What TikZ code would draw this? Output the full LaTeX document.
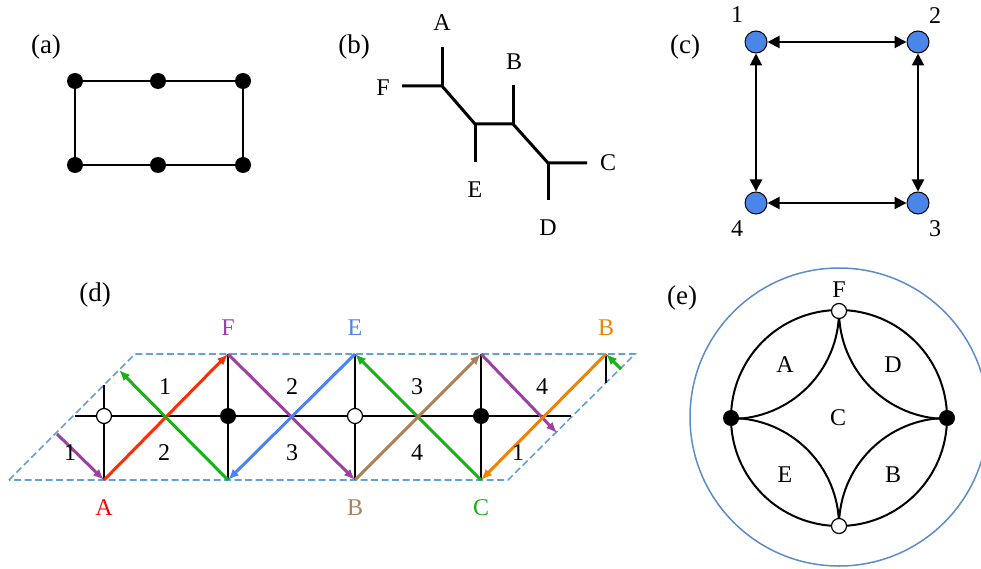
\documentclass[tikz,border=0pt]{standalone}
\usepackage{fontspec}
\setmainfont{Liberation Serif}
\usetikzlibrary{arrows.meta}
\definecolor{dpurple}{RGB}{155,65,160}
\definecolor{dred}{RGB}{255,45,0}
\definecolor{dgreen}{RGB}{20,180,20}
\definecolor{dblue}{RGB}{75,130,245}
\definecolor{dbrown}{RGB}{170,130,90}
\definecolor{dorange}{RGB}{240,130,0}
\definecolor{dashblue}{RGB}{100,160,220}
\definecolor{ringblue}{RGB}{90,140,205}
\definecolor{nodeblue}{RGB}{74,134,232}
\tikzset{
  lbl/.style={font=\fontsize{24}{28}\selectfont, inner sep=0pt},
  plbl/.style={font=\fontsize{27}{32}\selectfont, inner sep=0pt},
  bdot/.style={circle, fill=black, minimum size=16pt, inner sep=0pt},
  wdot/.style={circle, draw=black, fill=white, line width=1.2pt, minimum size=15pt, inner sep=0pt},
  kdot/.style={circle, fill=black, minimum size=16pt, inner sep=0pt},
  cnode/.style={circle, draw=black, fill=nodeblue, line width=1pt, minimum size=22pt, inner sep=0pt},
  blk/.style={line width=2pt, black},
  thk/.style={line width=3pt, black},
  carrow/.style={line width=2pt, {Triangle[length=12pt,width=12pt]}-{Triangle[length=12pt,width=12pt]}},
  col/.style={line width=3pt, -{Latex[length=11pt,width=9pt]}},
}
\begin{document}
\begin{tikzpicture}[x=1pt,y=-1pt]
\useasboundingbox (0,0) rectangle (981,569);

% ---------- (a)
\node[plbl] (la) at (46,47) {(a)};
\coordinate (a1) at (75,81);
\coordinate (a2) at (158,81);
\coordinate (a3) at (243,81);
\coordinate (a4) at (75,165);
\coordinate (a5) at (158,165);
\coordinate (a6) at (243,165);
\draw[blk] (a1) -- (a3) -- (a6) -- (a4) -- cycle;
\foreach \p in {a1,a2,a3,a4,a5,a6} \node[bdot] (d\p) at (\p) {};

% ---------- (b)
\node[plbl] (lb) at (354,47) {(b)};
\coordinate (bF) at (402,86);
\coordinate (bJ1) at (442,86);
\coordinate (bA) at (442,47);
\coordinate (bJ2) at (475,124);
\coordinate (bE) at (475,162);
\coordinate (bJ3) at (513,124);
\coordinate (bB) at (513,85);
\coordinate (bJ4) at (548,163);
\coordinate (bC) at (587,163);
\coordinate (bD) at (548,200);
\draw[thk] (bF) -- (bJ1) -- (bJ2) -- (bJ3) -- (bJ4) -- (bC);
\draw[thk] (bA) -- (bJ1);
\draw[thk] (bJ2) -- (bE);
\draw[thk] (bB) -- (bJ3);
\draw[thk] (bJ4) -- (bD);
\node[lbl] (tA) at (442,23) {A};
\node[lbl] (tF) at (383,88) {F};
\node[lbl] (tB) at (514,62) {B};
\node[lbl] (tE) at (475,190) {E};
\node[lbl] (tC) at (608,163) {C};
\node[lbl] (tD) at (548,228) {D};

% ---------- (c)
\node[plbl] (lc) at (685,47) {(c)};
\node[cnode] (n1) at (756,42) {};
\node[cnode] (n2) at (918,42) {};
\node[cnode] (n3) at (918,203) {};
\node[cnode] (n4) at (756,203) {};
\draw[carrow] (n1) -- (n2);
\draw[carrow] (n2) -- (n3);
\draw[carrow] (n3) -- (n4);
\draw[carrow] (n4) -- (n1);
\node[lbl] (t1) at (737,15) {1};
\node[lbl] (t2) at (935,16) {2};
\node[lbl] (t3) at (935,229) {3};
\node[lbl] (t4) at (737,229) {4};

% ---------- (d)
\node[plbl] (ld) at (95,295) {(d)};
\draw[dashblue, line width=1.6pt, dash pattern=on 7pt off 3.5pt]
  (9,480) -- (135,354) -- (635,354) -- (508,480) -- cycle;
\coordinate (pA) at (104,480);
\coordinate (pF) at (228,354);
\coordinate (pG) at (228,480);
\coordinate (pE) at (355,354);
\coordinate (pB) at (355,480);
\coordinate (pT) at (481,354);
\coordinate (pC) at (481,480);
\coordinate (pR) at (606,354);
\coordinate (eP1) at (57,434);
\coordinate (eG1) at (119,370);
\coordinate (eP2) at (557,433);
\coordinate (eG2) at (621,369);
\coordinate (hL) at (75,416);
\coordinate (hR) at (571,416);
\coordinate (v1) at (104,385);
\coordinate (v5) at (606,383);
\draw[blk] (hL) -- (hR);
\draw[blk] (v1) -- (pA);
\draw[blk] (pF) -- (pG);
\draw[blk] (pE) -- (pB);
\draw[blk] (pT) -- (pC);
\draw[blk] (pR) -- (v5);
\draw[col, dpurple] (eP1) -- (pA);
\draw[col, dred] (pA) -- (pF);
\draw[col, dgreen] (pG) -- (eG1);
\draw[col, dpurple] (pF) -- (pB);
\draw[col, dblue] (pE) -- (pG);
\draw[col, dgreen] (pC) -- (pE);
\draw[col, dbrown] (pB) -- (pT);
\draw[col, dpurple] (pT) -- (eP2);
\draw[col, dorange] (pR) -- (pC);
\draw[col, dgreen] (eG2) -- (pR);
\node[wdot] (w1) at (104,416) {};
\node[kdot] (k1) at (228,416) {};
\node[wdot] (w2) at (355,416) {};
\node[kdot] (k2) at (481,416) {};
\node[lbl, text=dpurple] (dF) at (228,328) {F};
\node[lbl, text=dblue] (dE) at (355,328) {E};
\node[lbl, text=dorange] (dB2) at (606,328) {B};
\node[lbl, text=red] (dA) at (104,508) {A};
\node[lbl, text=dbrown] (dB) at (355,508) {B};
\node[lbl, text=dgreen] (dC) at (481,508) {C};
\node[lbl] (u1) at (165,387) {1};
\node[lbl] (u2) at (292,387) {2};
\node[lbl] (u3) at (417,387) {3};
\node[lbl] (u4) at (542,387) {4};
\node[lbl] (b1) at (70,453) {1};
\node[lbl] (b2) at (164,453) {2};
\node[lbl] (b3) at (292,453) {3};
\node[lbl] (b4) at (417,453) {4};
\node[lbl] (b5) at (518,453) {1};

% ---------- (e)
\node[plbl] (le) at (682,298) {(e)};
\draw[ringblue, line width=1.5pt] (839,417) circle[radius=149];
\coordinate (eT) at (839,311);
\coordinate (eB) at (839,526);
\coordinate (eL) at (731,418);
\coordinate (eR) at (947,418);
\draw[blk] (839,418) circle[radius=108];
\draw[blk] (eT) arc[start angle=0, end angle=90, radius=108];
\draw[blk] (eT) arc[start angle=180, end angle=90, radius=108];
\draw[blk] (eB) arc[start angle=0, end angle=-90, radius=108];
\draw[blk] (eB) arc[start angle=180, end angle=270, radius=108];
\node[wdot] (eTd) at (eT) {};
\node[wdot] (eBd) at (eB) {};
\node[kdot] (eLd) at (eL) {};
\node[kdot] (eRd) at (eR) {};
\node[lbl] (xF) at (839,290) {F};
\node[lbl] (xA) at (785,365) {A};
\node[lbl] (xD) at (893,365) {D};
\node[lbl] (xC) at (838,418) {C};
\node[lbl] (xE) at (785,475) {E};
\node[lbl] (xB) at (893,475) {B};
\end{tikzpicture}
\end{document}
